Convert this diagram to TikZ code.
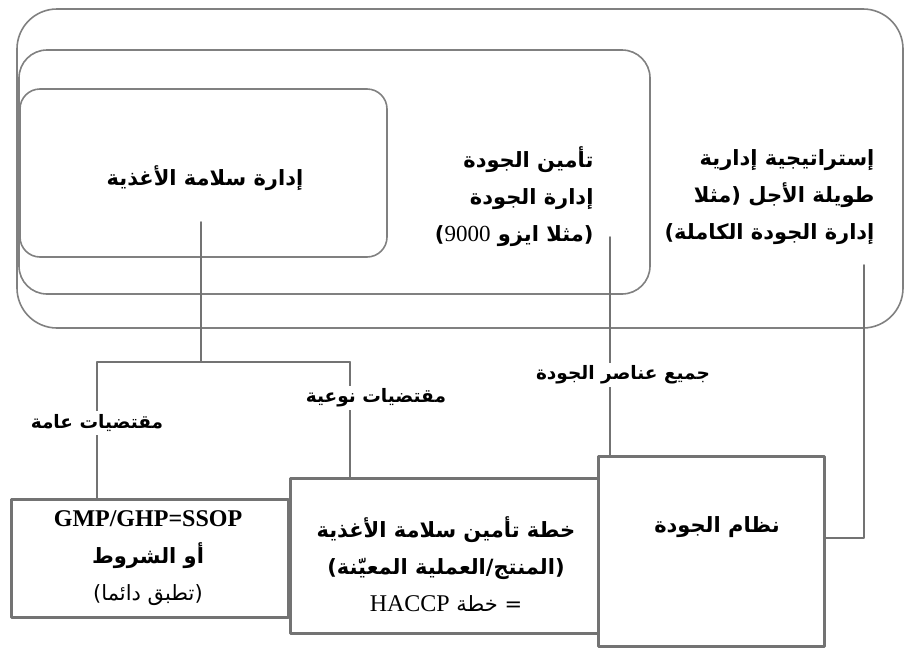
\documentclass[tikz,border=0pt]{standalone}
\usepackage{fontspec}
\setmainfont{Liberation Serif}
\newfontfamily\arabicfont[Script=Arabic]{DejaVu Sans}
\TeXXeTstate=1
\newcommand{\rtl}[1]{{\arabicfont\beginR #1\endR}}

\begin{document}
\begin{tikzpicture}[x=1pt, y=-1pt, line join=round, line cap=round,
	frame/.style={draw=black!50, line width=1.6pt},
	link/.style={draw=black!55, line width=1.6pt},
	unit/.style={draw=black!55, line width=2.8pt, fill=white, anchor=north west},
	title/.style={font=\bfseries\fontsize{21}{37}\selectfont, align=center},
	tag/.style={fill=white, inner sep=3pt, font=\bfseries\fontsize{18.5}{20}\selectfont}]
	\useasboundingbox (0,0) rectangle (907,648);
	% nested frames
	\draw[frame, rounded corners=40pt] (17,9) rectangle (903,328);
	\draw[frame, rounded corners=28pt] (19,50) rectangle (650,294);
	\draw[frame, rounded corners=20pt] (20,89) rectangle (387,257);
	\node[title] (fsm) at (205,178) {\rtl{إدارة سلامة الأغذية}};
	\node[title, align=right, anchor=east] (qa) at (597,197)
		{\rtl{تأمين الجودة}\\ \rtl{إدارة الجودة}\\
		\rtl{(مثلا ايزو {\rmfamily\mdseries\fontsize{23}{37}\selectfont 9000})}};
	\node[title, align=right, anchor=east] (tqm) at (878,197)
		{\rtl{إستراتيجية إدارية}\\ \rtl{طويلة الأجل (مثلا}\\ \rtl{إدارة الجودة الكاملة)}};
	% bottom boxes
	\node[unit, minimum width=277pt, minimum height=118pt] (gmp) at (10,498) {};
	\node[unit, minimum width=308pt, minimum height=155pt] (haccp) at (289,477) {};
	\node[unit, minimum width=226pt, minimum height=190pt] (qs) at (597,455) {};
	\node[title] (gmptxt) at (148,558)
		{{\rmfamily\fontsize{24}{37}\selectfont GMP/GHP=SSOP}\\ \rtl{أو الشروط}\\ \rtl{\mdseries (تطبق دائما)}};
	\node[title] (haccptxt) at (446,564)
		{\rtl{خطة تأمين سلامة الأغذية}\\ \rtl{(المنتج/العملية المعيّنة)}\\
		\rtl{\mdseries = خطة {\rmfamily\fontsize{24}{37}\selectfont HACCP}}};
	\node[title] (qstxt) at (717,527) {\rtl{نظام الجودة}};
	% connectors
	\coordinate (fsmfoot) at (201,222);
	\coordinate (split) at (201,362);
	\coordinate (lfork) at (97,362);
	\coordinate (rfork) at (350,362);
	\coordinate (qafoot) at (610,237);
	\coordinate (tqmfoot) at (864,265);
	\coordinate (tqmbend) at (864,538);
	\draw[link] (fsmfoot) -- (split);
	\draw[link] (lfork) -- (rfork);
	\draw[link] (lfork) -- (lfork |- gmp.north);
	\draw[link] (rfork) -- (rfork |- haccp.north);
	\draw[link] (qafoot) -- (qafoot |- qs.north);
	\draw[link] (tqmfoot) -- (tqmbend) -- (tqmbend -| qs.east);
	\node[tag] (general) at (97,423) {\rtl{مقتضيات عامة}};
	\node[tag] (specific) at (376,398) {\rtl{مقتضيات نوعية}};
	\node[tag] (allq) at (623,375) {\rtl{جميع عناصر الجودة}};
\end{tikzpicture}
\end{document}
